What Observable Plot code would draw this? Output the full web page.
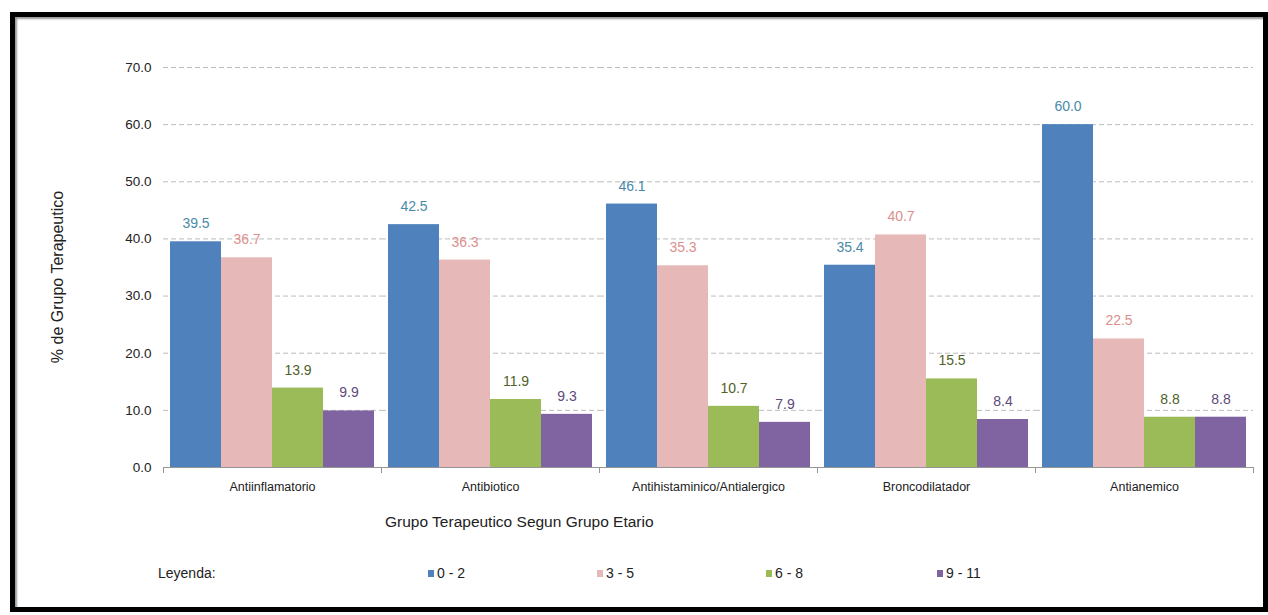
<!DOCTYPE html>
<html>
<head>
<meta charset="utf-8">
<script src="https://cdn.jsdelivr.net/npm/d3@7"></script>
<script src="https://cdn.jsdelivr.net/npm/@observablehq/plot@0.6"></script>
<style>
  body { margin: 0; background: #fff; font-family: "Liberation Sans", Arial, sans-serif; }
  #wrap { position: relative; width: 1268px; height: 615px; overflow: hidden; background: #fff; }
  #frame { position: absolute; left: 10px; top: 12px; width: 1258px; height: 600px; box-sizing: border-box;
           border: 5px solid #000; box-shadow: inset 2px 2px 2px #999; }
  #chart { position: absolute; left: 0; top: 0; }
  .t { position: absolute; color: #222; white-space: nowrap; }
  #ytitle { left: 58px; top: 277px; font-size: 16px; transform: translate(-50%, -50%) rotate(-90deg); }
  #xtitle { left: 385px; top: 513px; font-size: 15.5px; }
  #leyenda { left: 158px; top: 565px; font-size: 14px; }
  .item { position: absolute; top: 565px; font-size: 14px; color: #222; white-space: nowrap; }
  .sw { display: inline-block; width: 6px; height: 7px; margin-right: 3px; vertical-align: 1px; }
</style>
</head>
<body>
<div id="wrap">
  <div id="frame"></div>
  <div id="chart"></div>
  <div class="t" id="ytitle">% de Grupo Terapeutico</div>
  <div class="t" id="xtitle">Grupo Terapeutico Segun Grupo Etario</div>
  <div class="t" id="leyenda">Leyenda:</div>
  <div id="legend"></div>
</div>
<script>
const categories = ["Antiinflamatorio", "Antibiotico", "Antihistaminico/Antialergico", "Broncodilatador", "Antianemico"];
const ageGroups = ["0 - 2", "3 - 5", "6 - 8", "9 - 11"];
const values0to2 = [39.5, 42.5, 46.1, 35.4, 60.0];
const values3to5 = [36.7, 36.3, 35.3, 40.7, 22.5];
const values6to8 = [13.9, 11.9, 10.7, 15.5, 8.8];
const values9to11 = [9.9, 9.3, 7.9, 8.4, 8.8];
const yTicks = [0, 10, 20, 30, 40, 50, 60, 70];
const gridTicks = [10, 20, 30, 40, 50, 60, 70];
const barColors = ["#4f81bd", "#e6b9b8", "#9bbb59", "#8064a2"];
const labelColors = ["#4a8aa8", "#dc8f8d", "#4f6228", "#60497a"];
const legendX = [428, 597, 766, 937];

const series = [values0to2, values3to5, values6to8, values9to11];
const data = [];
categories.forEach((c, i) => ageGroups.forEach((a, j) => data.push({cat: c, age: a, value: series[j][i]})));

const W = 1268, H = 500, mL = 163, mR = 15, mT = 67, mB = 33;

const chart = Plot.plot({
  width: W, height: H,
  marginLeft: mL, marginRight: mR, marginTop: mT, marginBottom: mB,
  style: {fontFamily: "'Liberation Sans', Arial, sans-serif", background: "transparent", color: "#222"},
  fx: {domain: categories, padding: 0, label: null},
  x: {domain: ageGroups, paddingInner: 0, paddingOuter: 0.12, axis: null},
  y: {domain: [0, 70], label: null},
  color: {domain: ageGroups, range: barColors},
  marks: [
    Plot.gridY(gridTicks, {stroke: "#bdbdbd", strokeOpacity: 1, strokeDasharray: "5,3"}),
    Plot.axisY(yTicks, {tickFormat: d => d.toFixed(1), tickSize: 0, tickPadding: 12, fontSize: 13.5, label: null}),
    Plot.axisFx({anchor: "bottom", tickSize: 0, tickPadding: 15, fontSize: 12.5, label: null}),
    Plot.barY(data, {fx: "cat", x: "age", y: "value", fill: "age"}),
    ...ageGroups.map((a, j) => Plot.text(data.filter(d => d.age === a), {
      fx: "cat", x: "age", y: "value", text: d => d.value.toFixed(1),
      dy: -18, fill: labelColors[j], fontSize: 14
    })),
    Plot.ruleY([0], {stroke: "#959595"}),
    Plot.frame({anchor: "left", stroke: "#959595", insetTop: H - mT - mB, insetBottom: -5}),
    Plot.frame({anchor: "right", stroke: "#959595", insetTop: H - mT - mB, insetBottom: -5})
  ]
});
document.getElementById("chart").appendChild(chart);

const legend = document.getElementById("legend");
ageGroups.forEach((a, j) => {
  const it = document.createElement("div");
  it.className = "item";
  it.style.left = legendX[j] + "px";
  it.innerHTML = `<span class="sw" style="background:${barColors[j]}"></span>${a}`;
  legend.appendChild(it);
});
</script>
</body>
</html>
